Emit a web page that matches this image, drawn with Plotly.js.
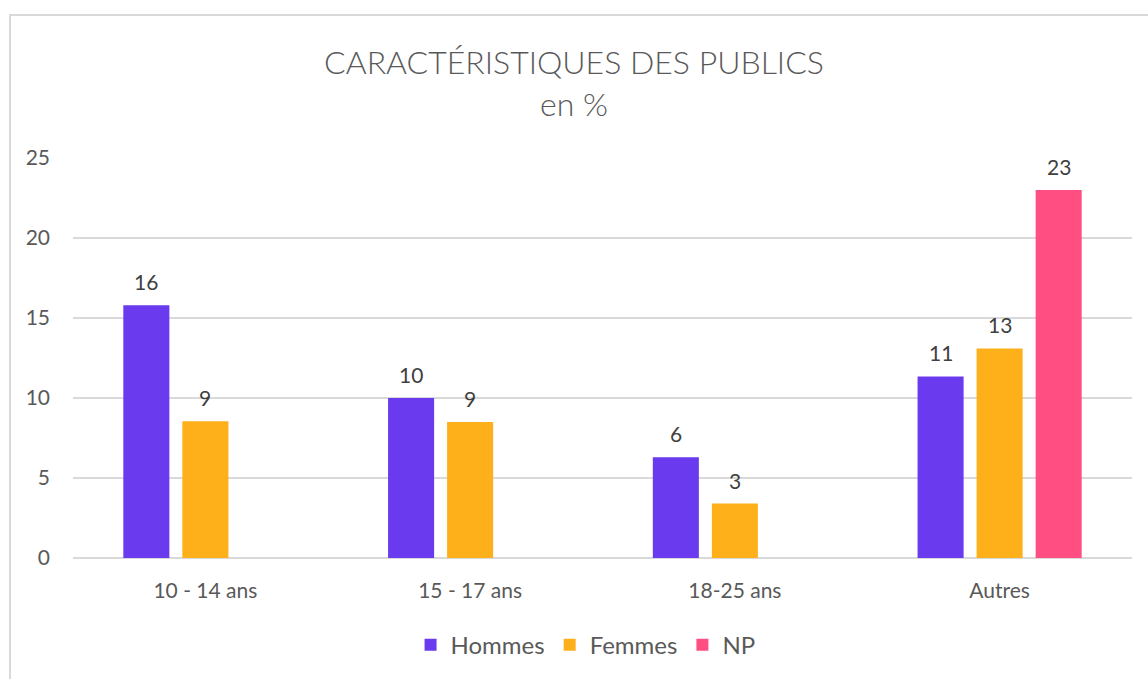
<!DOCTYPE html>
<html><head><meta charset="utf-8">
<script src="https://cdn.plot.ly/plotly-3.0.1.min.js"></script>
<style>html,body{margin:0;padding:0;background:#fff;}#chart{width:1148px;height:679px;position:relative;}
#frame{position:absolute;left:9px;top:14px;width:1200px;height:700px;border-left:2px solid #d9d9d9;border-top:2px solid #d9d9d9;pointer-events:none;}</style>
</head><body>
<div id="chart"></div><div id="frame"></div>
<script>
const categories = ["10 - 14 ans", "15 - 17 ans", "18-25 ans", "Autres"];
const hommes = [15.8, 10.0, 6.3, 11.35];
const femmes = [8.55, 8.5, 3.4, 13.1];
const np = [null, null, null, 23.0];
const seriesNames = ["Hommes", "Femmes", "NP"];
const colors = ["#6a3aef", "#fdb01a", "#ff4f82"];
const yTicks = [0, 5, 10, 15, 20, 25];

const FONT = "Lato, 'Open Sans', sans-serif";
const allSeries = [hommes, femmes, np];
const traces = allSeries.map((vals, i) => ({
  type: "bar", name: seriesNames[i], x: categories, y: vals,
  marker: {color: colors[i]}, hoverinfo: "none"
}));

const slot = 59; // px per bar slot
const annotations = [];
allSeries.forEach((vals, i) => {
  vals.forEach((v, j) => {
    if (v === null) return;
    annotations.push({x: categories[j], y: v, xref: "x", yref: "y",
      text: String(Math.round(v)), showarrow: false, yanchor: "bottom",
      yshift: 9, xshift: (i - 1) * slot,
      font: {family: FONT, size: 21, color: "#404040"}});
  });
});

const layout = {
  width: 1148, height: 679,
  margin: {l: 73, r: 16, t: 158, b: 120},
  paper_bgcolor: "#fff", plot_bgcolor: "#fff",
  title: {text: "CARACTÉRISTIQUES DES PUBLICS<br>en %", x: 0.5, xanchor: "center", y: 0.891, yanchor: "middle",
    font: {family: FONT, size: 32, color: "#595959", weight: 300}},
  barmode: "group", bargap: 0.331, bargroupgap: 0.22,
  xaxis: {type: "category", tickfont: {family: FONT, size: 21, color: "#595959"},
    showline: false, ticks: "", ticklen: 0, showgrid: false, ticklabelstandoff: 18},
  yaxis: {range: [0, 25], tickvals: yTicks, ticktext: yTicks.map(String),
    tickfont: {family: FONT, size: 21, color: "#595959"},
    gridcolor: "#d9d9d9", gridwidth: 1.5, zeroline: true, zerolinecolor: "#d9d9d9", zerolinewidth: 1.5,
    showline: false, ticks: "", ticklabelstandoff: 22},
  showlegend: true,
  legend: {orientation: "h", x: 0.484, xanchor: "center", y: -0.215, yanchor: "middle",
    font: {family: FONT, size: 24, color: "#595959"}, itemwidth: 30, traceorder: "normal"},
  annotations: annotations
};
Plotly.newPlot("chart", traces, layout, {displayModeBar: false, staticPlot: true});
</script>
</body></html>
